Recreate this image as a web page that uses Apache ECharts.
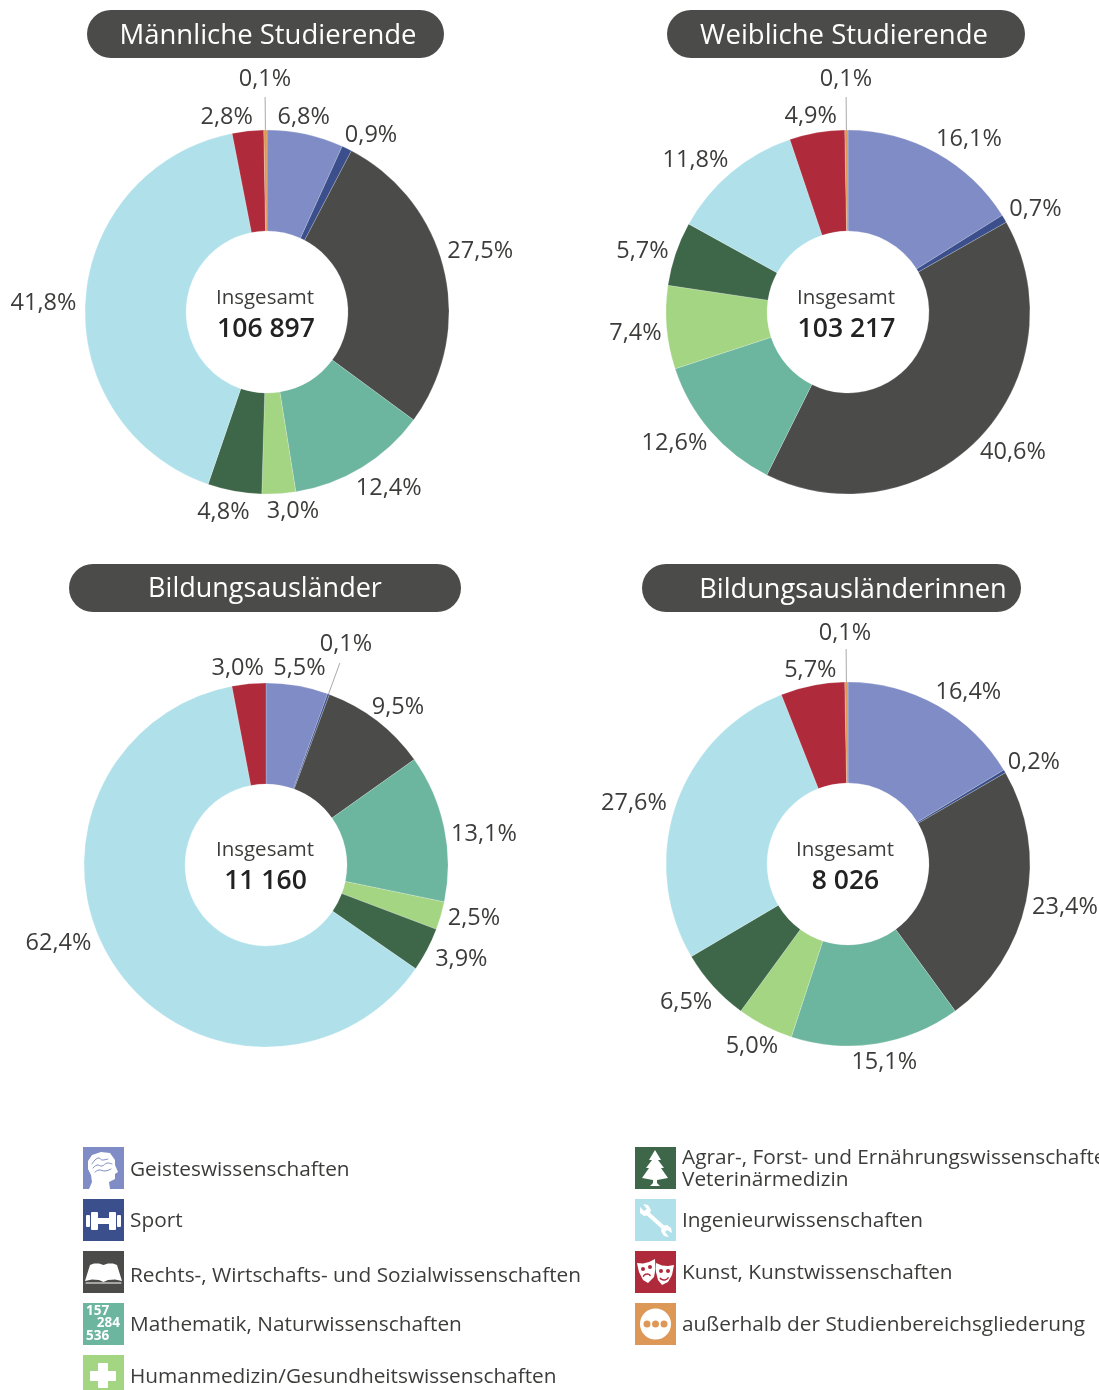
<!DOCTYPE html>
<html>
<head>
<meta charset="utf-8">
<style>html,body{margin:0;padding:0;background:#fff}#chart{width:1099px;height:1390px}</style>
<script src="https://cdn.jsdelivr.net/npm/echarts@6/dist/echarts.min.js"></script>
</head>
<body>
<div id="chart"></div>
<script>
// Studienbereiche, in Reihenfolge der Segmente
const categories = [
    'Geisteswissenschaften',
    'Sport',
    'Rechts-, Wirtschafts- und Sozialwissenschaften',
    'Mathematik, Naturwissenschaften',
    'Humanmedizin/Gesundheitswissenschaften',
    'Agrar-, Forst- und Ernährungswissenschaften,\nVeterinärmedizin',
    'Ingenieurwissenschaften',
    'Kunst, Kunstwissenschaften',
    'außerhalb der Studienbereichsgliederung'
];
const colors = ['#808cc6', '#3a4f8c', '#4b4b49', '#6cb59e', '#a4d582', '#3e6749', '#b0e1eb', '#af2a3a', '#dd9858'];

const maleValues = [6.8, 0.9, 27.5, 12.4, 3.0, 4.8, 41.8, 2.8, 0.1];
const femaleValues = [16.1, 0.7, 40.6, 12.6, 7.4, 5.7, 11.8, 4.9, 0.1];
const foreignMaleValues = [5.5, 0.1, 9.5, 13.1, 2.5, 3.9, 62.4, 3.0, null];
const foreignFemaleValues = [16.4, 0.2, 23.4, 15.1, 5.0, 6.5, 27.6, 5.7, 0.1];

const chartTitles = ['Männliche Studierende', 'Weibliche Studierende', 'Bildungsausländer', 'Bildungsausländerinnen'];
const totals = ['106 897', '103 217', '11 160', '8 026'];

const FONT = '"Open Sans", "Noto Sans", sans-serif';
const TEXT = '#3c3c3b';

// Layout der vier Ringe, nudge = Verschiebung der Beschriftungen
const pies = [
    {
        values: maleValues, cx: 267, cy: 312, pill: [87, 10, 357], titleX: 268, titleY: 36, titleSize: 27.5, leader: 8, minAngle: 1,
        textX: [265, 266], textY: [298, 329],
        nudge: [[-28, -17], [-2, -13], [3, -20], [-6, 21], [-12, 18], [15, 21], [-9, 4], [5, -14], [26, -18]]
    },
    {
        values: femaleValues, cx: 848, cy: 312, pill: [667, 10, 358], titleX: 844, titleY: 36, titleSize: 27.5, leader: 8, minAngle: 1,
        textX: [846, 846.5], textY: [298, 329],
        nudge: [[0, -13], [5, -9], [0, 15], [-3, 12], [-5, 6], [-7, -2], [-3, -12], [20, -16], [26, -18]]
    },
    {
        values: foreignMaleValues, cx: 266, cy: 865, pill: [69, 564, 392], titleX: 265, titleY: 589, titleSize: 27, leader: 1, minAngle: 0.6,
        textX: [265, 265.5], textY: [850, 881],
        nudge: [[-24, -17], [-20, -19], [-5, -13], [7, 7], [7, 3], [8, 10], [-22, -21], [15, -15]]
    },
    {
        values: foreignFemaleValues, cx: 848, cy: 864, pill: [642, 564, 379], titleX: 853, titleY: 590, titleSize: 27.2, leader: 8, minAngle: 1,
        textX: [845, 845.5], textY: [850, 881],
        nudge: [[-2, -13], [3, -9], [6, 6], [-25, 19], [13, 20], [-1, 16], [-9, -1], [24, -15], [25, -16]]
    }
];

const fmt = v => String(v.toFixed(1)).replace('.', ',') + '%';

const series = pies.map(p => ({
    type: 'pie',
    center: [p.cx, p.cy],
    radius: [81, 182],
    startAngle: 90,
    minAngle: p.minAngle,
    silent: true,
    avoidLabelOverlap: false,
    itemStyle: { borderColor: '#ffffff', borderWidth: 0.2 },
    label: { show: true, position: 'outside', color: TEXT, fontFamily: FONT, fontSize: 23.5, formatter: o => fmt(o.value), distanceToLabelLine: 0 },
    labelLine: { show: false, length: 0, length2: 0 },
    labelLayout: params => {
        const n = p.nudge[params.dataIndex] || [0, 0];
        return { dx: n[0], dy: n[1], hideOverlap: false };
    },
    data: categories.map((name, i) => {
        const d = { name, value: p.values[i], itemStyle: { color: colors[i] } };
        if (i === p.leader) {
            // Nur das kleinste Segment bekommt eine Fuehrungslinie
            d.labelLine = { show: true, length: 33, length2: 0, lineStyle: { color: '#a8a8a8', width: 1 } };
        }
        return d;
    }).filter(d => d.value !== null)
}));

const graphic = [];
pies.forEach((p, i) => {
    graphic.push({
        type: 'rect',
        shape: { x: p.pill[0], y: p.pill[1], width: p.pill[2], height: 48, r: 24 },
        style: { fill: '#4b4b49' }
    });
    graphic.push({
        type: 'text', x: p.titleX, y: p.titleY,
        style: { text: chartTitles[i], fill: '#fff', font: p.titleSize + 'px ' + FONT, align: 'center', verticalAlign: 'middle' }
    });
    graphic.push({
        type: 'text', x: p.textX[0], y: p.textY[0],
        style: { text: 'Insgesamt', fill: TEXT, font: '20.5px ' + FONT, align: 'center', verticalAlign: 'middle' }
    });
    graphic.push({
        type: 'text', x: p.textX[1], y: p.textY[1],
        style: { text: totals[i], fill: '#222', font: '600 26.5px ' + FONT, align: 'center', verticalAlign: 'middle' }
    });
});

// Piktogramme der Legende, Koordinaten im 41x42-Kaestchen
const white = { fill: '#fff' };
const rrect = (x, y, width, height, r, style = white) => ({ type: 'rect', shape: { x, y, width, height, r }, style });
const poly = (points, smooth = 0, style = white) => ({ type: 'polygon', shape: { points, smooth }, style });
const digit = (text, x, y, align) => ({ type: 'text', x, y, style: { text, fill: '#fff', font: '700 13.5px ' + FONT, align, verticalAlign: 'middle' } });
const stroke = (c, w) => ({ stroke: c, lineWidth: w, fill: null, lineCap: 'round' });
const dot = (cx, cy, r, fill) => ({ type: 'circle', shape: { cx, cy, r }, style: { fill } });
const squiggle = points => ({ type: 'polyline', shape: { points, smooth: 0.4 }, style: stroke('#808cc6', 1) });

const icons = [
    [
        poly([[6, 42], [9, 35], [8, 28], [5, 22], [5, 14], [9, 8], [18, 5], [27, 6], [32, 13], [32, 18], [35, 25], [32, 27], [32, 32], [26, 35], [27, 42]]),
        squiggle([[9, 17], [12, 13], [16, 11], [19, 13], [25, 12]]),
        squiggle([[10, 21], [14, 18], [19, 19], [24, 16], [29, 17]]),
        squiggle([[12, 25], [16, 23], [22, 24], [28, 22]])
    ],
    [
        rrect(3, 16, 4, 12, 1), rrect(8, 13, 7, 18, 1), rrect(14, 19, 13, 6, 0), rrect(26, 13, 7, 18, 1), rrect(34, 16, 4, 12, 1)
    ],
    [
        poly([[7, 14], [11, 12.5], [16, 12.5], [20.5, 14], [25, 12.5], [30, 12.5], [34, 14], [39, 30], [32, 28.5], [25, 29], [20.5, 31], [16, 29], [9, 28.5], [2, 30]]),
        { type: 'line', shape: { x1: 3, y1: 32, x2: 38, y2: 32 }, style: stroke('#ffffff', 1) }
    ],
    [
        digit('157', 3, 8, 'left'), digit('284', 37, 20, 'right'), digit('536', 3, 33, 'left')
    ],
    [
        rrect(15, 8, 10, 25, 1), rrect(7, 16, 26, 10, 1)
    ],
    [
        poly([[20, 3], [26, 13], [23, 13], [29, 21], [26, 21], [33, 31], [22, 33], [22, 36], [25, 39], [15, 39], [18, 36], [18, 33], [7, 31], [14, 21], [11, 21], [17, 13], [14, 13]])
    ],
    [
        // Maulschluessel: Griff und zwei offene Koepfe
        { type: 'line', shape: { x1: 11, y1: 13, x2: 30, y2: 30 }, style: stroke('#ffffff', 4) },
        poly([[5, 8], [9, 12], [12, 10], [8, 5], [13, 6], [16, 11], [14, 16], [9, 17], [5, 14]]),
        poly([[37, 34], [32, 31], [30, 33], [34, 38], [29, 37], [26, 32], [27, 27], [32, 26], [36, 29]])
    ],
    [
        poly([[2, 12], [8, 12.5], [14, 11], [20, 8], [20.5, 18], [19, 26], [13, 32], [8, 29], [4, 21]]),
        poly([[21, 12], [27, 14.5], [33, 15], [39, 14], [37, 24], [33, 31], [27, 34], [23, 29], [21, 21]]),
        dot(8, 18, 2, '#af2a3a'), dot(15, 16, 2, '#af2a3a'), dot(26, 20, 2, '#af2a3a'), dot(33, 20, 2, '#af2a3a'),
        { type: 'arc', shape: { cx: 12, cy: 27, r: 4, startAngle: 3.6, endAngle: 5.6, clockwise: true }, style: stroke('#af2a3a', 1.5) },
        { type: 'arc', shape: { cx: 29, cy: 24, r: 5, startAngle: 0.6, endAngle: 2.4, clockwise: true }, style: stroke('#af2a3a', 1.5) }
    ],
    [
        dot(20.5, 21, 15.5, '#fff'), dot(12, 21, 3.5, '#dd9858'), dot(20.5, 21, 3.5, '#dd9858'), dot(29, 21, 3.5, '#dd9858')
    ]
];

// Legendenzeilen: Kaestchen links oben, Textanfang und Textmitte
const legendRows = [
    [83, 1147, 130, 1170], [83, 1199, 130, 1221], [83, 1251, 130, 1276], [83, 1303, 130, 1325], [83, 1355, 130, 1377],
    [635, 1147, 682, 1169], [635, 1199, 682, 1221], [635, 1251, 682, 1273], [635, 1303, 682, 1325]
];

categories.forEach((name, i) => {
    const [bx, by, tx, ty] = legendRows[i];
    graphic.push({
        type: 'group', x: bx, y: by,
        children: [{ type: 'rect', shape: { x: 0, y: 0, width: 41, height: 42 }, style: { fill: colors[i] } }].concat(icons[i])
    });
    graphic.push({
        type: 'text', x: tx, y: ty,
        style: { text: name, fill: TEXT, font: '20.8px ' + FONT, lineHeight: 22, align: 'left', verticalAlign: 'middle' }
    });
});

const chart = echarts.init(document.getElementById('chart'), null, { renderer: 'canvas' });
chart.setOption({ animation: false, series, graphic });
</script>
</body>
</html>
